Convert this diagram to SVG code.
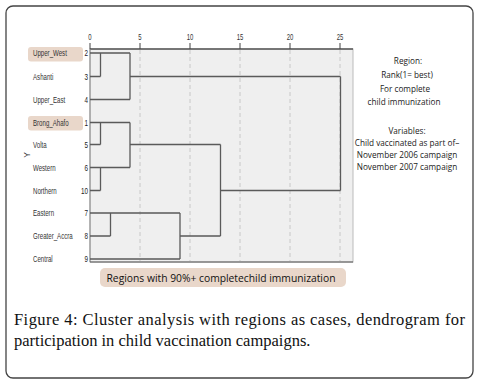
<svg xmlns="http://www.w3.org/2000/svg" width="487" height="383" viewBox="0 0 487 383">
<style>
.lab{font-family:"Liberation Sans",sans-serif;font-size:8.5px;fill:#333}
.num{font-family:"Liberation Sans",sans-serif;font-size:9px;fill:#222;text-anchor:end}
.tick{font-family:"Liberation Sans",sans-serif;font-size:8.5px;fill:#333;text-anchor:middle}
.side{font-family:"Open Sans","Liberation Sans",sans-serif;font-size:8.2px;fill:#222;text-anchor:middle}
.hl{fill:#e9d7ca}
.grid{stroke:#c8c8c8;stroke-width:1;stroke-dasharray:4 3}
.den{fill:none;stroke:#5a5a5a;stroke-width:1.3}
.cap{font-family:"Liberation Serif",serif;font-size:16.5px;fill:#111}
</style>
<rect x="6" y="6" width="467" height="372" rx="7" fill="#fff" stroke="#444" stroke-width="1.3"/>
<g id="plot">
<rect x="90" y="49" width="263" height="213" fill="#efefef" stroke="#bbb" stroke-width="1"/>
<line x1="140" y1="50" x2="140" y2="261" class="grid"/>
<line x1="190" y1="50" x2="190" y2="261" class="grid"/>
<line x1="240" y1="50" x2="240" y2="261" class="grid"/>
<line x1="290" y1="50" x2="290" y2="261" class="grid"/>
<line x1="340" y1="50" x2="340" y2="261" class="grid"/>
<line x1="90" y1="49" x2="353" y2="49" stroke="#555" stroke-width="1.5"/>
<line x1="90" y1="49" x2="90" y2="262" stroke="#888" stroke-width="1"/>
<line x1="90" y1="262" x2="353" y2="262" stroke="#555" stroke-width="1"/>
<g stroke="#444" stroke-width="1">
<line x1="90" y1="43" x2="90" y2="49"/><line x1="140" y1="43" x2="140" y2="49"/><line x1="190" y1="43" x2="190" y2="49"/><line x1="240" y1="43" x2="240" y2="49"/><line x1="290" y1="43" x2="290" y2="49"/><line x1="340" y1="43" x2="340" y2="49"/>
</g>
<g transform="translate(0,40)">
<text class="tick" transform="translate(90,0) scale(0.7,1)">0</text>
<text class="tick" transform="translate(140,0) scale(0.7,1)">5</text>
<text class="tick" transform="translate(190,0) scale(0.7,1)">10</text>
<text class="tick" transform="translate(240,0) scale(0.7,1)">15</text>
<text class="tick" transform="translate(290,0) scale(0.7,1)">20</text>
<text class="tick" transform="translate(340,0) scale(0.7,1)">25</text>
</g>
</g>
<g id="labels">
<rect class="hl" x="28" y="47" width="55" height="14.5" rx="3"/>
<rect class="hl" x="28" y="116" width="55" height="14.5" rx="3"/>
<g id="n-upper-west"><text class="lab" transform="translate(33,56) scale(0.72,1)">Upper_West</text><text class="num" transform="translate(88,56) scale(0.7,1)">2</text></g>
<g id="n-ashanti"><text class="lab" transform="translate(33,79.5) scale(0.72,1)">Ashanti</text><text class="num" transform="translate(88,79.5) scale(0.7,1)">3</text></g>
<g id="n-upper-east"><text class="lab" transform="translate(33,102.5) scale(0.72,1)">Upper_East</text><text class="num" transform="translate(88,102.5) scale(0.7,1)">4</text></g>
<g id="n-brong-ahafo"><text class="lab" transform="translate(33,125.5) scale(0.72,1)">Brong_Ahafo</text><text class="num" transform="translate(88,125.5) scale(0.7,1)">1</text></g>
<g id="n-volta"><text class="lab" transform="translate(33,147.5) scale(0.72,1)">Volta</text><text class="num" transform="translate(88,147.5) scale(0.7,1)">5</text></g>
<g id="n-western"><text class="lab" transform="translate(33,170.5) scale(0.72,1)">Western</text><text class="num" transform="translate(88,170.5) scale(0.7,1)">6</text></g>
<g id="n-northern"><text class="lab" transform="translate(33,193.5) scale(0.72,1)">Northern</text><text class="num" transform="translate(88,193.5) scale(0.7,1)">10</text></g>
<g id="n-eastern"><text class="lab" transform="translate(33,216) scale(0.72,1)">Eastern</text><text class="num" transform="translate(88,216) scale(0.7,1)">7</text></g>
<g id="n-greater-accra"><text class="lab" transform="translate(33,239) scale(0.72,1)">Greater_Accra</text><text class="num" transform="translate(88,239) scale(0.7,1)">8</text></g>
<g id="n-central"><text class="lab" transform="translate(33,262) scale(0.72,1)">Central</text><text class="num" transform="translate(88,262) scale(0.7,1)">9</text></g>
<text class="lab" transform="translate(30,155) rotate(-90)" text-anchor="middle">Y</text>
</g>
<g id="connectors" class="den">
<path d="M90,53H130M90,76.5H100.5M100.5,53V76.5M90,99.5H130M130,53V99.5M130,76.5H340.5"/>
<path d="M90,122.5H130M90,144.5H100.5M100.5,122.5V144.5M90,167.5H130M90,190.5H100.5M100.5,167.5V190.5M130,122.5V167.5M130,144.5H220.5"/>
<path d="M90,213H180M90,236H110.5M110.5,213V236M90,259H180M180,213V259M180,236H220.5M220.5,144.5V236M220.5,190.5H340.5M340.5,76.5V190.5"/>
</g>
<g id="legend-box">
<rect class="hl" x="100" y="268" width="246" height="19" rx="5"/>
<text x="221" y="281.5" text-anchor="middle" style="font-family:'Open Sans','Liberation Sans',sans-serif;font-size:10.3px;fill:#111">Regions with 90%+ completechild immunization</text>
</g>
<g id="side-note">
<text class="side" x="408" y="64">Region:</text>
<text class="side" x="407" y="78">Rank(1= best)</text>
<text class="side" x="405" y="92">For complete</text>
<text class="side" x="404" y="105">child immunization</text>
<text class="side" x="407" y="134">Variables:</text>
<text class="side" x="407" y="146">Child vaccinated as part of–</text>
<text class="side" x="407" y="158">November 2006 campaign</text>
<text class="side" x="407" y="170">November 2007 campaign</text>
</g>
<g id="caption">
<text class="cap" x="14" y="325" textLength="451" lengthAdjust="spacing">Figure 4: Cluster analysis with regions as cases, dendrogram for</text>
<text class="cap" x="14" y="346">participation in child vaccination campaigns.</text>
</g>
</svg>
